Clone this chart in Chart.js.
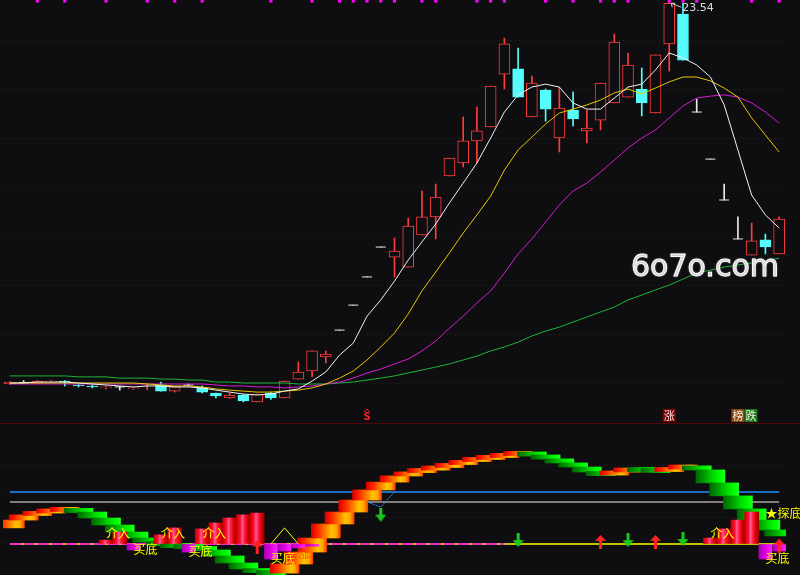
<!DOCTYPE html>
<html>
<head>
<meta charset="utf-8">
<script src="https://cdn.jsdelivr.net/npm/chart.js@4.4.1/dist/chart.umd.min.js"></script>
<style>
  html, body { margin: 0; padding: 0; background: #0e0e11; }
  #wrap { position: relative; width: 800px; height: 575px; overflow: hidden; background: #0e0e11; }
  #kline { position: absolute; left: 0; top: 0; }
  #ind { position: absolute; left: 0; top: 423px; }
  #sep { position: absolute; left: 0; top: 423px; width: 800px; height: 1px; background: #560707; }
</style>
</head>
<body>
<div id="wrap">
  <canvas id="kline" width="800" height="423"></canvas>
  <canvas id="ind" width="800" height="152"></canvas>
  <div id="sep"></div>
</div>
<script>
// daily candles
const open  = [7.96, 8.02, 7.99, 8.04, 8.08, 7.92, 7.88, 7.80, 7.84, 7.76, 7.96, 7.92, 7.67, 7.92, 7.80, 7.59, 7.39, 7.51, 7.23, 7.59, 7.39, 8.16, 8.49, 9.06, 10.16, 11.18, 12.33, 13.55, 13.14, 12.73, 14.04, 14.78, 16.45, 16.98, 17.88, 18.45, 20.61, 20.82, 18.86, 19.96, 18.00, 19.14, 18.29, 18.73, 19.43, 19.67, 20.00, 19.02, 21.84, 23.06, 19.06, 17.14, 15.47, 13.88, 13.22, 13.84, 13.27];
const high  = [8.06, 8.10, 8.10, 8.10, 8.10, 7.94, 7.92, 7.88, 7.86, 7.82, 8.00, 8.04, 7.84, 7.96, 7.88, 7.59, 7.59, 7.53, 7.55, 7.63, 8.08, 8.86, 9.31, 9.31, 10.16, 11.18, 12.33, 13.55, 13.92, 14.73, 15.84, 16.12, 17.18, 18.86, 19.27, 20.12, 22.08, 21.67, 20.53, 20.00, 20.08, 19.88, 19.14, 20.24, 22.24, 21.47, 20.86, 21.39, 23.54, 23.51, 19.59, 17.14, 16.12, 14.78, 14.53, 14.08, 14.78];
const low   = [7.94, 8.02, 7.97, 8.02, 7.88, 7.84, 7.80, 7.76, 7.71, 7.74, 7.73, 7.67, 7.63, 7.88, 7.59, 7.39, 7.37, 7.23, 7.23, 7.33, 7.39, 8.16, 8.25, 8.82, 10.16, 11.18, 12.33, 13.55, 12.33, 12.73, 14.04, 13.88, 16.45, 16.82, 16.98, 18.45, 20.00, 19.67, 18.86, 18.69, 17.43, 18.49, 17.80, 18.33, 19.43, 19.67, 18.90, 19.02, 20.73, 21.18, 19.06, 17.14, 15.47, 13.88, 13.22, 13.27, 13.27];
const close = [8.04, 8.02, 8.08, 8.08, 8.04, 7.88, 7.84, 7.84, 7.84, 7.80, 7.99, 7.67, 7.84, 7.92, 7.63, 7.47, 7.51, 7.27, 7.55, 7.39, 8.08, 8.45, 9.31, 9.18, 10.16, 11.18, 12.33, 13.55, 13.39, 14.41, 14.78, 15.59, 17.18, 17.88, 18.29, 20.12, 21.84, 19.67, 20.24, 19.18, 19.22, 18.78, 18.41, 20.24, 21.92, 20.98, 19.43, 21.39, 23.50, 21.18, 19.06, 17.14, 15.47, 13.88, 13.80, 13.55, 14.69];

// moving averages (white, yellow, purple, green)
const ma5  = [8.00, 8.00, 8.04, 8.04, 8.04, 8.00, 7.96, 7.92, 7.88, 7.84, 7.88, 7.88, 7.84, 7.84, 7.80, 7.71, 7.63, 7.55, 7.51, 7.55, 7.67, 7.76, 8.08, 8.45, 9.14, 9.63, 10.73, 11.39, 12.16, 13.02, 13.76, 14.49, 15.35, 16.16, 16.98, 18.00, 19.06, 19.76, 20.08, 20.20, 20.08, 19.43, 19.18, 19.18, 19.63, 20.08, 20.20, 20.78, 21.47, 21.27, 20.98, 20.49, 19.35, 17.51, 15.67, 14.86, 14.33];
const ma10 = [8.00, 8.00, 8.00, 8.00, 8.00, 8.00, 8.00, 8.00, 8.00, 8.00, 7.96, 7.92, 7.88, 7.88, 7.84, 7.76, 7.71, 7.67, 7.63, 7.63, 7.67, 7.71, 7.80, 7.96, 8.20, 8.49, 8.94, 9.47, 10.04, 10.82, 11.76, 12.53, 13.31, 14.12, 14.86, 15.63, 16.69, 17.51, 18.04, 18.57, 19.02, 19.18, 19.35, 19.55, 19.84, 20.00, 19.80, 20.04, 20.29, 20.49, 20.49, 20.33, 20.04, 19.67, 18.82, 18.12, 17.43];
const ma20 = [7.96, 7.96, 7.96, 7.96, 7.96, 7.96, 7.96, 7.96, 7.96, 7.96, 7.96, 7.96, 7.96, 7.96, 7.96, 7.92, 7.88, 7.88, 7.84, 7.84, 7.80, 7.84, 7.88, 7.96, 8.04, 8.20, 8.41, 8.57, 8.78, 8.98, 9.31, 9.71, 10.24, 10.73, 11.27, 11.76, 12.49, 13.27, 13.88, 14.57, 15.27, 15.84, 16.16, 16.61, 17.10, 17.59, 18.00, 18.33, 18.82, 19.31, 19.63, 19.71, 19.76, 19.67, 19.43, 19.06, 18.61];
const ma60 = [8.29, 8.29, 8.29, 8.29, 8.29, 8.25, 8.25, 8.25, 8.20, 8.20, 8.20, 8.16, 8.16, 8.12, 8.12, 8.04, 8.04, 8.00, 8.00, 8.00, 8.00, 7.96, 7.96, 7.96, 8.00, 8.04, 8.12, 8.20, 8.29, 8.41, 8.53, 8.65, 8.78, 8.94, 9.10, 9.31, 9.47, 9.67, 9.92, 10.12, 10.28, 10.49, 10.69, 10.90, 11.10, 11.39, 11.59, 11.80, 12.00, 12.24, 12.49, 12.61, 12.73, 12.82, 12.90, 12.98, 13.10];

// purple ticks along the top edge
const markerIdx = [2, 4, 7, 10, 12, 14, 19, 22, 24, 25, 26, 27, 28, 30, 31, 34, 35, 36, 39, 41, 43, 44, 45, 48, 49, 50, 54, 56];
const markerLevel = 23.59;

// signals under the candles
const topSigIdx = [26, 48, 53];
const topSigStr = ['S', '涨', '榜跌'];

// lower indicator panel
const ribbonPrev = 6.2;
const ribbon = [9.2, 11.2, 12.3, 13.1, 13.5, 12.3, 10.0, 7.3, 4.6, 2.3, 0.8, -0.4, -0.8, -1.2, -2.3, -4.6, -7.3, -9.6, -10.8, -11.2, -7.7, -3.1, 2.3, 7.7, 12.3, 16.9, 20.8, 23.8, 26.2, 27.7, 28.8, 29.6, 30.8, 31.9, 33.1, 33.5, 34.6, 35.0, 34.2, 32.7, 31.2, 29.6, 27.7, 26.5, 28.1, 28.8, 28.5, 28.1, 29.2, 30.0, 28.5, 23.5, 18.5, 13.5, 9.2, 5.4, 3.1];
const blueLevel = 20;
const greyLevel = 16.2;
const magentaDashEnd = 36;

const redBarIdx = [7, 8, 11, 12, 14, 15, 16, 17, 18, 51, 52, 53, 54];
const redBarVal = [1.5, 4.6, 3.5, 6.2, 5.8, 8.1, 10.0, 11.2, 11.9, 2.3, 5.8, 9.2, 12.3];
const magBarIdx = [9, 13, 19, 20, 21, 22, 55, 56];
const magBarVal = [-2.3, -3.1, -5.8, -2.7, -1.5, -0.8, -5.8, -2.7];

const peakIdx = [19, 20, 21];
const peakVal = [0, 6.2, 0];
const vIdx = [26, 27, 28];
const vVal = [16.2, 14.2, 20.0];

const upIdx = [18, 43, 47, 56];
const upVal = [-1.3, 0.8, 0.8, -0.6];
const downIdx = [27, 37, 45, 49];
const downVal = [11.3, 1.5, 1.5, 1.9];

const textIdx = [7, 9, 11, 13, 14, 19, 21, 51, 55, 55];
const textStr = ['介入', '买底', '介入', '买底', '介入', '买底', '涨', '介入', '买底', '★探底'];
const textVal = [4.2, -1.9, 4.2, -2.7, 4.2, -5.4, -3.8, 4.2, -5.4, 11.9];

// ---------------------------------------------------------------
const BG = '#0e0e11';
const RED = '#ff3c3c', CYAN = '#54fcfc', WHITE = '#e8e8e8';
const days = close.map((_, i) => i + 1);
const sparse = (idx, val) => {
  const out = days.map(() => null);
  idx.forEach((i, k) => { out[i] = val[k]; });
  return out;
};

function candleColor(i) {
  return close[i] > open[i] ? RED : close[i] < open[i] ? CYAN : WHITE;
}

function hGrad(ctx, half, stops, fallback) {
  const chart = ctx.chart;
  if (ctx.type !== 'data' || !chart.chartArea) return fallback;
  const x = chart.scales.x.getPixelForValue(ctx.dataIndex);
  if (!isFinite(x)) return fallback;
  const g = chart.ctx.createLinearGradient(x - half, 0, x + half, 0);
  stops.forEach(s => g.addColorStop(s[0], s[1]));
  return g;
}

const bodyData = days.map((_, i) => close[i] === open[i] ? null : [open[i], close[i]]);
const wickData = days.map((_, i) => [low[i], high[i]]);
const flatData = days.map((_, i) => close[i] === open[i] ? close[i] : null);
const markData = sparse(markerIdx, markerIdx.map(() => markerLevel));

const gridFor = list => c => (c.tick && list.includes(c.tick.value)) ? '#5c0c0c' : 'rgba(0,0,0,0)';

const topText = {
  id: 'topText',
  afterDatasetsDraw(chart) {
    const { ctx, scales: { x, y }, chartArea } = chart;
    ctx.save();
    // highest price note
    const hi = high.indexOf(Math.max(...high));
    const hx = x.getPixelForValue(hi), hy = y.getPixelForValue(high[hi]);
    ctx.strokeStyle = '#cfcfcf';
    ctx.lineWidth = 1;
    ctx.beginPath();
    ctx.moveTo(hx + 2, hy + 1); ctx.lineTo(hx + 12, hy + 5);
    ctx.moveTo(hx + 2, hy + 1); ctx.lineTo(hx + 6, hy + 1);
    ctx.moveTo(hx + 2, hy + 1); ctx.lineTo(hx + 3, hy + 5);
    ctx.stroke();
    ctx.fillStyle = '#dadada';
    ctx.font = '11px "DejaVu Sans"';
    ctx.textBaseline = 'middle';
    ctx.textAlign = 'left';
    ctx.fillText(high[hi].toFixed(2), hx + 13, hy + 6);

    // signal marks
    const sy = chartArea.bottom - 8;
    topSigIdx.forEach((i, k) => {
      const sx = x.getPixelForValue(i);
      const s = topSigStr[k];
      if (s === 'S') {
        ctx.strokeStyle = '#ff2020';
        ctx.beginPath();
        ctx.moveTo(sx - 3, sy - 3); ctx.lineTo(sx, sy - 6); ctx.lineTo(sx + 3, sy - 3);
        ctx.stroke();
        ctx.fillStyle = '#ff2020';
        ctx.font = 'bold 10px "DejaVu Sans"';
        ctx.textAlign = 'center';
        ctx.fillText('S', sx, sy + 2);
        return;
      }
      ctx.font = '11px "Noto Sans CJK SC"';
      ctx.textAlign = 'center';
      [...s].forEach((ch, j) => {
        const cx = sx + j * 13;
        ctx.fillStyle = ch === '涨' ? '#7c0000' : ch === '榜' ? '#8a4a12' : '#187a18';
        ctx.fillRect(cx - 6.5, sy - 6, 13, 13);
        ctx.fillStyle = '#f4e8e0';
        ctx.fillText(ch, cx, sy + 1);
      });
    });

    // site mark
    ctx.font = '30px "DejaVu Sans"';
    ctx.textAlign = 'left';
    ctx.textBaseline = 'alphabetic';
    ctx.shadowColor = 'rgba(110,110,110,0.9)';
    ctx.shadowBlur = 2;
    ctx.fillStyle = '#ffffff';
    ctx.strokeStyle = '#ffffff';
    ctx.lineWidth = 1;
    ctx.fillText('6o7o.com', 631, 276);
    ctx.strokeText('6o7o.com', 631, 276);
    ctx.restore();
  }
};

new Chart(document.getElementById('kline'), {
  type: 'bar',
  data: {
    labels: days,
    datasets: [
      { type: 'line', label: 'mark', data: markData, showLine: false, pointStyle: 'rect', pointRadius: 2.2,
        pointBackgroundColor: '#ff00ff', pointBorderWidth: 0, clip: false, order: 0 },
      { type: 'line', label: 'MA5', data: ma5, borderColor: '#f2f2f2', borderWidth: 1, pointRadius: 0, order: 1 },
      { type: 'line', label: 'MA10', data: ma10, borderColor: '#e6c800', borderWidth: 1, pointRadius: 0, order: 1 },
      { type: 'line', label: 'MA20', data: ma20, borderColor: '#d21ed2', borderWidth: 1, pointRadius: 0, order: 1 },
      { type: 'line', label: 'MA60', data: ma60, borderColor: '#1fb43a', borderWidth: 1, pointRadius: 0, order: 1 },
      { type: 'line', label: 'flat', data: flatData, showLine: false, pointStyle: 'line', pointRadius: 5,
        pointBorderColor: WHITE, pointBorderWidth: 1, order: 3 },
      { type: 'bar', label: 'body', data: bodyData,
        backgroundColor: c => close[c.dataIndex] > open[c.dataIndex] ? BG : CYAN,
        borderColor: c => candleColor(c.dataIndex),
        borderWidth: 1, borderSkipped: false, barThickness: 11, grouped: false, order: 4 },
      { type: 'bar', label: 'wick', data: wickData,
        backgroundColor: c => candleColor(c.dataIndex),
        barThickness: 1, grouped: false, order: 5 }
    ]
  },
  options: {
    responsive: false,
    animation: false,
    layout: { autoPadding: false, padding: { left: 3, right: 14, top: 0, bottom: 0 } },
    plugins: { legend: { display: false }, tooltip: { enabled: false } },
    scales: {
      x: { type: 'category', display: false, offset: true },
      y: {
        min: 6.368, max: 23.633,
        afterFit: s => { s.width = 0; },
        ticks: { display: false, stepSize: 2 },
        grid: { drawTicks: false, color: gridFor([8, 10, 12, 14, 16, 18, 20, 22]) },
        border: { display: false, dash: [1, 3] }
      }
    }
  },
  plugins: [topText]
});

// ---------------------------------------------------------------
function arrowImg(up, color) {
  const c = document.createElement('canvas');
  c.width = 11; c.height = 14;
  const g = c.getContext('2d');
  g.fillStyle = color;
  g.beginPath();
  if (up) {
    g.moveTo(5.5, 0); g.lineTo(11, 6); g.lineTo(0, 6); g.closePath(); g.fill();
    g.fillRect(4, 6, 3, 8);
  } else {
    g.fillRect(4, 0, 3, 8);
    g.moveTo(0, 7); g.lineTo(11, 7); g.lineTo(5.5, 14); g.closePath(); g.fill();
  }
  return c;
}

const ribbonData = days.map((_, i) => {
  const a = i ? ribbon[i - 1] : ribbonPrev, b = ribbon[i];
  let lo = Math.min(a, b), hi = Math.max(a, b);
  if (hi - lo < 1.6) { const m = (hi + lo) / 2; lo = m - 0.8; hi = m + 0.8; }
  return [lo, hi];
});
const rising = i => ribbon[i] >= (i ? ribbon[i - 1] : ribbonPrev);

const WARM = [[0, '#d80000'], [0.2, '#ff2000'], [0.45, '#ff7000'], [0.7, '#ffc400'], [0.86, '#ffa800'], [1, '#ff3c00']];
const GREEN = [[0, '#006800'], [0.3, '#009c00'], [0.6, '#00dc00'], [0.85, '#00ff00'], [1, '#22ff22']];
const REDSTICK = [[0, '#c80000'], [0.28, '#ff1030'], [0.42, '#ff5c9c'], [0.56, '#ff2448'], [0.78, '#e00000'], [1, '#980000']];
const MAGSTICK = [[0, '#a800b8'], [0.5, '#e000e0'], [1, '#ff22ff']];

const indText = {
  id: 'indText',
  afterDatasetsDraw(chart) {
    const { ctx, scales: { x, y } } = chart;
    ctx.save();
    ctx.font = '12px "Noto Sans CJK SC"';
    ctx.textBaseline = 'middle';
    ctx.textAlign = 'left';
    textIdx.forEach((i, k) => {
      ctx.fillStyle = textStr[k] === '涨' ? '#ff5a00' : '#ffff00';
      ctx.fillText(textStr[k], x.getPixelForValue(i), y.getPixelForValue(textVal[k]));
    });
    ctx.restore();
  }
};

new Chart(document.getElementById('ind'), {
  type: 'bar',
  data: {
    labels: days,
    datasets: [
      { type: 'line', label: 'up', data: sparse(upIdx, upVal), showLine: false,
        pointStyle: arrowImg(true, '#ff2020'), pointRadius: 6, order: 0 },
      { type: 'line', label: 'down', data: sparse(downIdx, downVal), showLine: false,
        pointStyle: arrowImg(false, '#18c818'), pointRadius: 6, order: 0 },
      { type: 'line', label: 'peak', data: sparse(peakIdx, peakVal), borderColor: '#ffff00',
        borderWidth: 1, pointRadius: 0, order: 1 },
      { type: 'line', label: 'dip', data: sparse(vIdx, vVal), borderColor: '#3399ff',
        borderWidth: 1, borderDash: [2, 1], pointRadius: 0, order: 1 },
      { type: 'bar', label: 'red', data: sparse(redBarIdx, redBarVal.map(v => [0, v])),
        backgroundColor: c => hGrad(c, 7, REDSTICK, '#ff0000'),
        barThickness: 14, grouped: false, order: 2 },
      { type: 'bar', label: 'magenta', data: sparse(magBarIdx, magBarVal.map(v => [v, 0])),
        backgroundColor: c => hGrad(c, 6.5, MAGSTICK, '#ff00ff'),
        barThickness: 13, grouped: false, order: 2 },
      { type: 'bar', label: 'ribbon', data: ribbonData,
        backgroundColor: c => hGrad(c, 14.5, rising(c.dataIndex) ? WARM : GREEN, '#ff8000'),
        barThickness: 29, grouped: false, order: 3 },
      { type: 'line', label: 'dash', data: days.map((_, i) => i <= magentaDashEnd ? 0 : null),
        borderColor: '#ff00ff', borderWidth: 1.5, borderDash: [11, 3], pointRadius: 0, order: 4 },
      { type: 'line', label: 'zero', data: days.map(() => 0), borderColor: '#ffff00',
        borderWidth: 1.5, pointRadius: 0, order: 5 },
      { type: 'line', label: 'blue', data: days.map(() => blueLevel), borderColor: '#1e8cff',
        borderWidth: 1.5, pointRadius: 0, order: 6 },
      { type: 'line', label: 'grey', data: days.map(() => greyLevel), borderColor: '#a4a4a4',
        borderWidth: 1.5, pointRadius: 0, order: 6 }
    ]
  },
  options: {
    responsive: false,
    animation: false,
    layout: { autoPadding: false, padding: { left: 3, right: 14, top: 0, bottom: 0 } },
    plugins: { legend: { display: false }, tooltip: { enabled: false } },
    scales: {
      x: { type: 'category', display: false, offset: true },
      y: {
        min: -11.923, max: 46.538,
        afterFit: s => { s.width = 0; },
        ticks: { display: false, stepSize: 10 },
        grid: { drawTicks: false, color: gridFor([0, 10, 20, 30]) },
        border: { display: false, dash: [1, 3] }
      }
    }
  },
  plugins: [indText]
});
</script>
</body>
</html>
